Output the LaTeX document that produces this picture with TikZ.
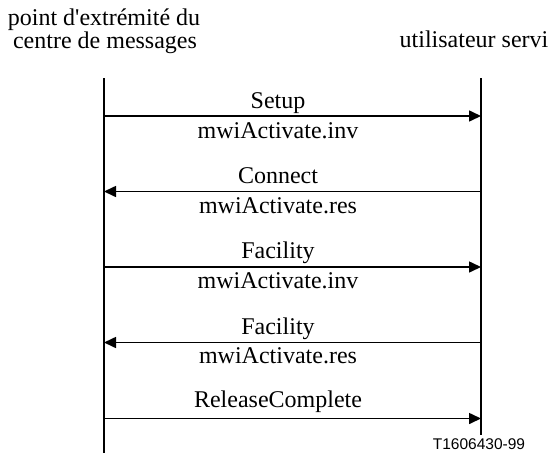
\documentclass[tikz,border=0pt]{standalone}
\usepackage{fontspec}
\setmainfont{Liberation Serif}
\newfontfamily\plaintimes{Liberation Serif}
\newfontfamily\arialfont{Liberation Sans}
\usetikzlibrary{arrows.meta}
\tikzset{
  lifeline/.style={line width=1.6pt},
  msg/.style={line width=1.6pt, -{Triangle[length=12pt,width=11pt]}},
  lbl/.style={anchor=base, inner sep=0pt, font=\fontsize{24}{28}\selectfont},
  hdr/.style={anchor=base, inner sep=0pt, font=\plaintimes\fontsize{24}{28}\selectfont},
  tag/.style={anchor=base, inner sep=0pt, font=\arialfont\fontsize{15.5}{18}\selectfont}
}
\begin{document}
\begin{tikzpicture}[x=1pt,y=-1pt]
\useasboundingbox (0,0) rectangle (549,453);
% headers
\node[hdr] (h1) at (104,25) {point d'extrémité du};
\node[hdr] (h2) at (105,48) {centre de messages};
\node[hdr] (h3) at (474,47) {utilisateur servi};
% lifelines
\coordinate (Ltop) at (104,78);
\coordinate (Lbot) at (104,453);
\coordinate (Rtop) at (481,78);
\coordinate (Rbot) at (481,435);
\draw[lifeline] (Ltop) -- (Lbot);
\draw[lifeline] (Rtop) -- (Rbot);
% arrow anchors
\coordinate (L1) at (104,116);   \coordinate (R1) at (481,116);
\coordinate (L2) at (104,191.5); \coordinate (R2) at (481,191.5);
\coordinate (L3) at (104,267);   \coordinate (R3) at (481,267);
\coordinate (L4) at (104,342.5); \coordinate (R4) at (481,342.5);
\coordinate (L5) at (104,418.5); \coordinate (R5) at (481,418.5);
\draw[msg] (L1) -- (R1);
\draw[msg] (R2) -- (L2);
\draw[msg] (L3) -- (R3);
\draw[msg] (R4) -- (L4);
\draw[msg] (L5) -- (R5);
% labels
\node[lbl] (m1a) at (278,108) {Setup};
\node[lbl] (m1b) at (278,138.5) {mwiActivate.inv};
\node[lbl] (m2a) at (278,183.5) {Connect};
\node[lbl] (m2b) at (278,213.5) {mwiActivate.res};
\node[lbl] (m3a) at (278,258.5) {Facility};
\node[lbl] (m3b) at (278,288.5) {mwiActivate.inv};
\node[lbl] (m4a) at (278,334) {Facility};
\node[lbl] (m4b) at (278,363.5) {mwiActivate.res};
\node[lbl] (m5a) at (278,407) {ReleaseComplete};
\node[tag] (t) at (479,449.5) {T1606430-99};
\end{tikzpicture}
\end{document}
